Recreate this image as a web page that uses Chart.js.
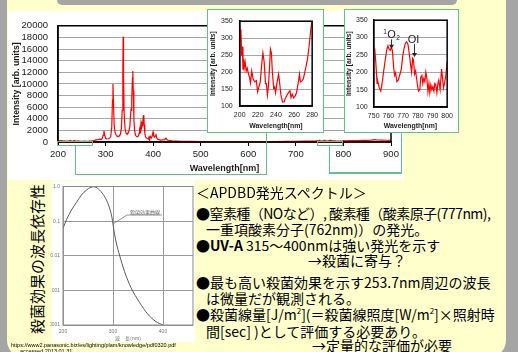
<!DOCTYPE html>
<html><head><meta charset="utf-8">
<script src="https://cdn.jsdelivr.net/npm/chart.js@4.4.1/dist/chart.umd.min.js"></script>
<style>
html,body{margin:0;padding:0;}
body{width:518px;height:352px;overflow:hidden;position:relative;background:#a5a5a5;font-family:"Noto Sans CJK JP",sans-serif;color:#000;}
.a{position:absolute;}
#yellow{left:7px;top:0;width:499px;height:358px;background:#ffffcc;border-radius:0 0 18px 18px;}
#tab{left:57px;top:0;width:400px;height:5px;background:#a5a5a5;border-radius:0 0 7px 7px;}
#panel{left:8px;top:11px;width:396px;height:169px;background:#fff;}
.gl{background:#62c08a;}
.gbox{border:1.5px solid #62c08a;box-sizing:border-box;background:#fff;}
.gr{border:1.5px solid #62c08a;box-sizing:border-box;}
#germbg{left:52px;top:181px;width:143px;height:161px;background:#fff;}
.t{font-size:14px;line-height:16px;white-space:nowrap;}
.t sup{font-size:8px;line-height:0;vertical-align:6px;}
#vtext{left:-43px;top:249px;width:160px;height:20px;line-height:20px;text-align:center;transform:rotate(-90deg);font-size:15px;white-space:nowrap;}
.url{font-family:"Liberation Sans",sans-serif;font-size:5.5px;line-height:6px;white-space:nowrap;}
canvas{position:absolute;}
</style></head>
<body>
<div class="a" id="yellow"></div>
<div class="a" id="tab"></div>
<div class="a" id="panel"></div>
<div class="a" id="germbg"></div>

<canvas id="main" width="396" height="167" style="left:8px;top:11px"></canvas>

<!-- zoom connectors -->
<div class="a gr" style="left:57px;top:141px;width:36px;height:5px"></div>
<div class="a gl" style="left:74.5px;top:146px;width:1.5px;height:29px"></div>
<div class="a gl" style="left:74.5px;top:173.5px;width:192.5px;height:1.5px"></div>
<div class="a gl" style="left:265.5px;top:132px;width:1.5px;height:43px"></div>
<div class="a gr" style="left:316.5px;top:141px;width:26px;height:5px"></div>
<div class="a gl" style="left:328.5px;top:146px;width:1.5px;height:27.5px"></div>
<div class="a gl" style="left:328.5px;top:172px;width:73.5px;height:1.5px"></div>
<div class="a gl" style="left:400.5px;top:132px;width:1.5px;height:41.5px"></div>

<div class="a gbox" style="left:207px;top:9px;width:117px;height:124px"></div>
<div class="a gbox" style="left:344px;top:9px;width:115px;height:124px"></div>
<canvas id="uv" width="115" height="121" style="left:208px;top:10px"></canvas>
<canvas id="ir" width="113" height="121" style="left:345px;top:10px"></canvas>

<canvas id="germ" width="145" height="162" style="left:50px;top:181px"></canvas>
<div class="a" id="vtext">殺菌効果の波長依存性</div>

<div class="a t" style="left:196px;top:184px">＜APDBD発光スペクトル＞</div>
<div class="a t" style="left:196px;top:205px;letter-spacing:-0.55px">●窒素種（NOなど）, 酸素種（酸素原子(777nm),</div>
<div class="a t" style="left:206px;top:221px">一重項酸素分子(762nm)）の発光。</div>
<div class="a t" style="left:196px;top:237px">●<b>UV-A</b> 315～400nmは強い発光を示す</div>
<div class="a t" style="left:308px;top:252px">→殺菌に寄与？</div>
<div class="a t" style="left:196px;top:274px">●最も高い殺菌効果を示す253.7nm周辺の波長</div>
<div class="a t" style="left:206px;top:290px">は微量だが観測される。</div>
<div class="a t" style="left:196px;top:306px">●殺菌線量[J/m<sup>2</sup>](＝殺菌線照度[W/m<sup>2</sup>]×照射時</div>
<div class="a t" style="left:206px;top:323px">間[sec] )として評価する必要あり。</div>
<div class="a t" style="left:312px;top:337px">→定量的な評価が必要</div>

<div class="a url" style="left:11px;top:342px">https://www2.panasonic.biz/es/lighting/plam/knowledge/pdf0320.pdf</div>
<div class="a url" style="left:20px;top:348px">accessed 2013.01.31</div>

<script>
// ---- UV detail (200-280 nm) ----
const uvWl  = [200,200.7,201.4,202.2,202.9,203.6,204.3,205,206,207.2,208.3,209.7,210.8,211.9,213.3,214.8,216.6,218.4,219.8,221.3,222.7,224.1,225.6,227,228.5,229.5,230.6,231.7,232.8,233.9,235,236,237.5,238.6,239.6,241,242.9,244,245.4,247.2,249,250.1,251.9,253.7,255.5,256.6,258,259.5,261.3,262.7,264.5,266,267,268.8,270.3,271.7,273.2,274.6,276.4,277.8,278.9,280];
const uvInt = [289,325,321,248,275,207,239,212,230,203,212,194,185,168,203,180,171,175,142,157,171,216,257,230,166,166,132,157,207,268,257,203,153,157,139,166,194,171,135,112,112,121,130,139,145,125,135,124,130,139,166,194,171,174,180,198,216,235,271,307,335,350];
// ---- main spectrum middle part (280-750 nm) ----
const midWl  = [282,285,288,291,293,295,296.5,298,300,303,306,309,311,313,314.5,315.5,316.5,318,320,323,326,329,331,333,335,336.3,337,337.8,339,341,343,345,347,349,351,352.5,353.5,354.5,355.5,356.5,357.3,358.2,359.5,361,363,365,367,369,370.5,371.5,372.5,373.5,374.5,375.5,376.5,377.5,378.5,379.5,380.3,381.2,382.5,384,386,388,390,391.4,392.5,394.3,396,398,399.8,401,402.5,404,405.9,407,409,412,416,420,424,427,429,432,436,440,445,450,460,470,480,500,520,540,560,580,600,620,640,660,680,700,720,740,748];
const midInt = [380,430,480,470,620,1200,1900,1250,650,520,560,700,1000,2600,7200,10000,7200,3000,1600,1050,950,1050,1300,2200,5500,12500,18100,12000,5000,2300,1500,1350,1500,1900,2700,4700,5600,5500,7500,11000,12200,8800,4000,2000,1150,950,900,1050,1500,2000,1600,2300,3300,3500,2500,2900,3700,4500,4650,3000,1500,900,700,560,520,850,520,950,700,1000,1700,1100,850,1000,1400,800,520,400,340,380,420,650,400,300,250,200,170,150,120,110,100,80,70,60,50,50,55,60,70,85,100,120,140,160,220];
// ---- near-IR detail (750-800 nm) ----
const irWl  = [750,750.7,751.4,752.3,752.9,753.8,754.8,755.9,756.8,757.7,758.8,759.7,760.4,761.3,762,762.7,763.6,764.3,764.9,765.8,766.7,767.9,768.8,769.7,770.6,771.5,772.4,773.3,774.2,775.1,775.8,776.5,777.1,777.8,778.5,779.2,779.9,780.5,781.4,782,782.8,783.4,784.1,784.8,785.5,786.2,786.9,787.6,788.2,788.9,789.6,790.3,791,791.6,792.3,793,793.7,794.3,795.2,796.2,796.8,797.5,798.2,799.1,800];
const irInt = [263,267,231,168,172,155,146,173,204,231,263,276,267,263,272,263,213,191,198,173,177,195,209,245,267,283,288,281,254,222,200,240,236,195,204,182,159,146,150,186,191,168,182,173,200,182,144,168,141,164,150,159,146,168,164,141,168,177,150,209,186,155,168,191,231];
// ---- main spectrum tail (800-900 nm) ----
const tailWl  = [805,810,820,830,840,850,858,866,872,880,890,900];
const tailInt = [210,220,240,250,270,290,320,400,340,320,300,280];
// ---- germicidal efficiency curve ----
const germWl  = [200,207,217,227,237,247,256,261,266,276,285,293,298,300,303,307,313,323,336,353,369,386,400];
const germEff = [0.062,0.11,0.21,0.35,0.57,0.79,0.95,0.98,0.95,0.71,0.46,0.24,0.126,0.081,0.043,0.022,0.0105,0.0035,0.0012,0.00045,0.00021,0.000125,0.0001];
const germXTicks  = [200,300,400];
const germYTicks  = [1,0.1,0.01,0.001,0.0001];
const germYLabels = ['1.0','0.1','0.01','0.001','.0001'];
// ---- annotations in the near-IR inset ----
const annotWl     = [762, 777.5];
const annotTop    = [295, 282];
const annotBottom = [268, 244];
const annotText   = ['O', 'OI'];
const annotSup    = ['1', ''];
const annotSub    = ['2', ''];

Chart.defaults.font.family = '"Liberation Sans", Arial, sans-serif';
Chart.defaults.color = '#1a1a1a';

const pts = (xs, ys) => xs.map((x, i) => ({x, y: ys[i]}));
const plain = v => String(v);

const frame = {
  id: 'frame',
  afterDatasetsDraw(chart, args, o) {
    const {ctx, chartArea: a} = chart;
    ctx.save();
    ctx.strokeStyle = o.color || '#000';
    ctx.lineWidth = o.width || 1.5;
    ctx.strokeRect(a.left, a.top, a.right - a.left, a.bottom - a.top);
    ctx.restore();
  }
};

function baseOpts(pad) {
  return {
    responsive: false, animation: false, devicePixelRatio: 1,
    layout: {padding: pad},
    plugins: {legend: {display: false}, tooltip: {enabled: false}},
    elements: {point: {radius: 0}, line: {tension: 0}}
  };
}

// ---------- main spectrum ----------
const mainOpts = baseOpts({left: 0, right: 13, top: 6, bottom: 0});
mainOpts.plugins.frame = {color: '#000', width: 1.5};
mainOpts.scales = {
  x: {type: 'linear', min: 200, max: 900,
      ticks: {stepSize: 100, font: {size: 9.5}, padding: 3, maxRotation: 0, autoSkip: false, callback: plain},
      grid: {drawOnChartArea: false, drawTicks: true, tickLength: 4, color: '#000'},
      border: {display: true, color: '#000', width: 1.5},
      title: {display: true, text: 'Wavelength[nm]', font: {size: 9, weight: 'bold'}, padding: {top: 0, bottom: 4.5}},
      afterFit(s) { s.height = 36; }},
  y: {min: 0, max: 20000,
      ticks: {stepSize: 2000, font: {size: 9.5, lineHeight: 1}, padding: 10, autoSkip: false, callback: plain},
      grid: {color: '#a6a6a6', drawTicks: false},
      border: {display: true, color: '#000', width: 1.5},
      title: {display: true, text: 'Intensity [arb. units]', font: {size: 8.7, weight: 'bold'}, padding: {top: 3, bottom: 0}},
      afterFit(s) { s.width = 50; }}
};
new Chart(document.getElementById('main'), {
  type: 'line',
  data: {datasets: [{
    data: pts(uvWl.concat(midWl, irWl, tailWl), uvInt.concat(midInt, irInt, tailInt)),
    borderColor: '#ff0000', borderWidth: 1.2, pointRadius: 0, fill: false
  }]},
  options: mainOpts,
  plugins: [frame]
});

// ---------- insets ----------
function insetOpts(xmin, xmax, xstep, pad, yw, xh, ytp, ypad, xpad, xtb) {
  const o = baseOpts(pad);
  o.plugins.frame = {color: '#000', width: 1.5};
  o.scales = {
    x: {type: 'linear', min: xmin, max: xmax,
        ticks: {stepSize: xstep, font: {size: 7}, padding: xpad, maxRotation: 0, autoSkip: false, callback: plain},
        grid: {drawOnChartArea: false, drawTicks: false},
        border: {display: true, color: '#000', width: 1.5},
        title: {display: true, text: 'Wavelength[nm]', font: {size: 6.9, weight: 'bold'}, padding: {top: 0, bottom: xtb}},
        afterFit(s) { s.height = xh; }},
    y: {min: 100, max: 350,
        ticks: {stepSize: 50, font: {size: 7}, padding: ypad, autoSkip: false, callback: plain},
        grid: {color: '#a6a6a6', drawTicks: false},
        border: {display: true, color: '#000', width: 1.5},
        title: {display: true, text: 'Intensity [arb. units]', font: {size: 6.8, weight: 'bold'}, padding: {top: ytp, bottom: 0}},
        afterFit(s) { s.width = yw; }}
  };
  return o;
}

new Chart(document.getElementById('uv'), {
  type: 'line',
  data: {datasets: [{data: pts(uvWl, uvInt), borderColor: '#ff0000', borderWidth: 1.2, pointRadius: 0}]},
  options: insetOpts(200, 280, 20, {left: 0, right: 9.3, top: 4.3, bottom: 0}, 31.7, 25, 1.2, 7, 5, 1),
  plugins: [frame]
});

const annot = {
  id: 'annot',
  afterDatasetsDraw(chart) {
    const {ctx, scales: {x, y}} = chart;
    ctx.save();
    ctx.strokeStyle = '#333'; ctx.fillStyle = '#222'; ctx.lineWidth = 1;
    annotWl.forEach((wl, i) => {
      const px = Math.round(x.getPixelForValue(wl)) + 0.5;
      const yt = y.getPixelForValue(annotTop[i]);
      const yb = y.getPixelForValue(annotBottom[i]);
      ctx.beginPath(); ctx.moveTo(px, yt); ctx.lineTo(px, yb - 2); ctx.stroke();
      ctx.beginPath(); ctx.moveTo(px - 2.5, yb - 4); ctx.lineTo(px, yb); ctx.lineTo(px + 2.5, yb - 4); ctx.closePath(); ctx.fill();
      ctx.font = '11px "Liberation Sans", Arial, sans-serif';
      ctx.textBaseline = 'alphabetic';
      const w = ctx.measureText(annotText[i]).width;
      const tx = px - w / 2 + (annotSup[i] ? 0 : -1);
      const ty = yt - 1;
      ctx.textAlign = 'left';
      ctx.fillText(annotText[i], tx, ty);
      ctx.font = '6.5px "Liberation Sans", Arial, sans-serif';
      if (annotSup[i]) ctx.fillText(annotSup[i], tx - 4, ty - 4);
      if (annotSub[i]) ctx.fillText(annotSub[i], tx + w + 0.5, ty + 1.5);
    });
    ctx.restore();
  }
};

new Chart(document.getElementById('ir'), {
  type: 'line',
  data: {datasets: [{data: pts(irWl, irInt), borderColor: '#ff0000', borderWidth: 1.2, pointRadius: 0}]},
  options: insetOpts(750, 800, 10, {left: 0, right: 10.7, top: 4, bottom: 0}, 28.7, 24, 0, 6, 5, 0.3),
  plugins: [frame, annot]
});

// ---------- germicidal efficiency (log) ----------
const germLabel = {
  id: 'germLabel',
  afterDatasetsDraw(chart) {
    const {ctx, scales: {x, y}} = chart;
    ctx.save();
    ctx.strokeStyle = '#777'; ctx.fillStyle = '#666'; ctx.lineWidth = 0.8;
    ctx.beginPath();
    ctx.moveTo(x.getPixelForValue(301), y.getPixelForValue(0.085));
    ctx.lineTo(x.getPixelForValue(328), y.getPixelForValue(0.15));
    ctx.lineTo(x.getPixelForValue(398), y.getPixelForValue(0.15));
    ctx.stroke();
    ctx.font = '5px "Noto Sans CJK JP", sans-serif';
    ctx.textAlign = 'center'; ctx.textBaseline = 'bottom';
    ctx.fillText('殺菌効果曲線', x.getPixelForValue(364), y.getPixelForValue(0.15) - 0.5);
    ctx.restore();
  }
};
const gOpts = baseOpts({left: 0, right: 2, top: 2, bottom: 0});
gOpts.plugins.frame = {color: '#8a8a8a', width: 1};
gOpts.scales = {
  x: {type: 'linear', min: 200, max: 460,
      afterBuildTicks(s) { s.ticks = germXTicks.map(v => ({value: v})); },
      ticks: {font: {size: 5, lineHeight: 1}, color: '#777', padding: 4, maxRotation: 0, autoSkip: false, callback: plain},
      grid: {color: '#9a9a9a', drawTicks: false},
      border: {display: false},
      title: {display: true, text: '波　長(nm)', color: '#777', font: {size: 5, family: '"Noto Sans CJK JP", sans-serif'}, padding: {top: 0, bottom: 2}},
      afterFit(s) { s.height = 18; }},
  y: {type: 'logarithmic', min: 0.0001, max: 1,
      afterBuildTicks(s) { s.ticks = germYTicks.map(v => ({value: v})); },
      ticks: {font: {size: 5, lineHeight: 1}, color: '#777', padding: 3, autoSkip: false,
              callback: v => germYLabels[germYTicks.findIndex(t => Math.abs(Math.log10(t) - Math.log10(v)) < 1e-6)]},
      grid: {color: '#9a9a9a', drawTicks: false},
      border: {display: false},
      afterFit(s) { s.width = 13; }}
};
new Chart(document.getElementById('germ'), {
  type: 'line',
  data: {datasets: [{data: pts(germWl, germEff), borderColor: '#5a5a5a', borderWidth: 1, pointRadius: 0, cubicInterpolationMode: 'monotone'}]},
  options: gOpts,
  plugins: [frame, germLabel]
});
</script>
</body></html>
